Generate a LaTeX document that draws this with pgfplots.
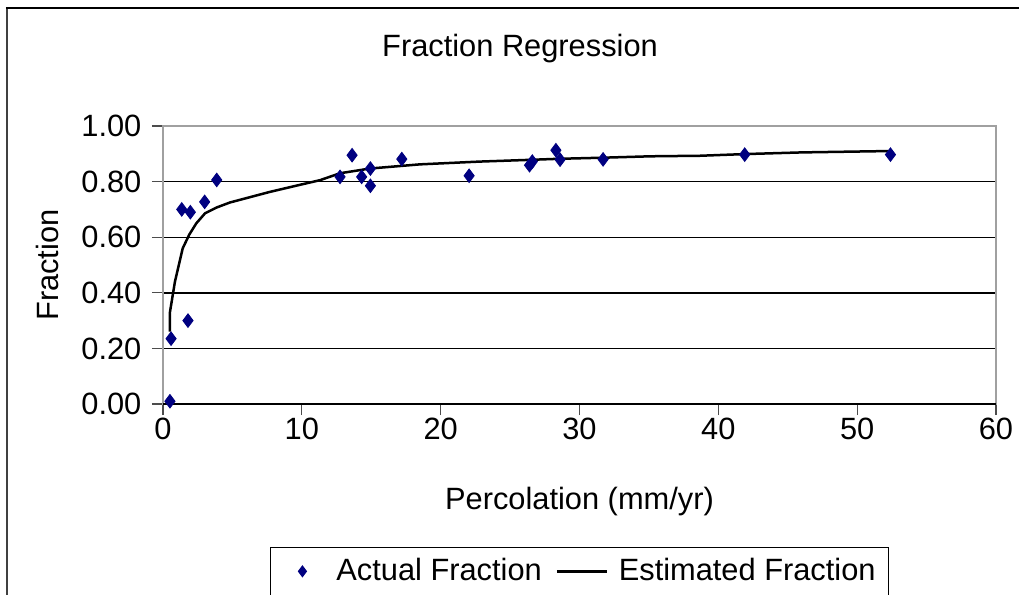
\documentclass[border=0pt]{standalone}
\usepackage{pgfplots}
\pgfplotsset{compat=1.18}
\usepackage{fontspec}
\setmainfont{Liberation Sans}

\definecolor{navymark}{RGB}{0,0,128}
\definecolor{framegray}{RGB}{160,160,160}

% legend images with the spacing of the reference
\pgfplotsset{
    markleg/.style={legend image code/.code={%
        \path[draw=none, fill=none] (0bp,0bp) -- (26.5bp,0bp);
        \path[##1, draw=none, mark size=2.6bp] plot coordinates {(11.5bp,0bp)};}},
    lineleg/.style={legend image code/.code={%
        \path[draw=none, fill=none] (-5.5bp,0bp) -- (29bp,0bp);
        \draw[black, line width=1.25bp, solid] (0bp,0bp) -- (25bp,0bp);}},
}

\pgfplotstableread{
x y
0.50 0.010
0.58 0.235
1.80 0.300
1.35 0.700
1.97 0.690
3.00 0.727
3.87 0.806
12.75 0.817
13.62 0.895
14.31 0.817
14.94 0.847
14.94 0.785
17.20 0.881
22.05 0.821
26.40 0.859
26.60 0.872
28.30 0.913
28.60 0.879
31.70 0.880
41.90 0.897
52.40 0.897
}\actual

\pgfplotstableread{
x y
0.50 0.260
0.50 0.330
0.86 0.440
1.42 0.560
1.90 0.610
2.40 0.650
3.03 0.686
3.87 0.707
4.83 0.725
7.70 0.763
10.00 0.790
11.30 0.805
12.75 0.830
14.90 0.847
18.50 0.862
22.80 0.872
25.70 0.877
28.50 0.882
31.70 0.886
35.10 0.891
38.70 0.893
41.90 0.899
46.00 0.905
52.40 0.910
}\estimated

\begin{document}
\fontsize{15.4bp}{18bp}\selectfont
\begin{tikzpicture}
% page frame (only left and top edges are visible in the reference)
\useasboundingbox (-81.5bp,-95.5bp) rectangle (428bp,202bp);
\draw[line width=1bp, black!75] (-78bp,198bp) -- (-78bp,-96bp);
\draw[line width=1bp, black] (-78.5bp,198bp) -- (429bp,198bp);
\begin{axis}[
    at={(0,0)}, anchor=south west,
    scale only axis,
    width=416.5bp, height=139bp,
    xmin=0, xmax=60, ymin=0, ymax=1,
    xtick={0,10,...,60},
    ytick={0,0.2,...,1.0},
    tick pos=left,
    tick align=outside,
    major tick length=5.5bp,
    tick style={black!70, line width=0.6bp},
    axis line style={framegray, line width=1bp},
    ymajorgrids,
    major grid style={black, line width=0.7bp},
    /pgf/number format/assume math mode=true,
    yticklabel style={/pgf/number format/.cd, fixed, fixed zerofill, precision=2},
    xticklabel style={yshift=4bp},
    title={Fraction Regression},
    title style={at={(axis description cs:0.4286,1.234)}, anchor=center},
    xlabel={Percolation (mm/yr)},
    xlabel style={at={(axis description cs:0.5,-0.35)}, anchor=center},
    ylabel={Fraction},
    ylabel style={at={(axis description cs:-0.139,0.5)}, anchor=center},
    clip=false,
    legend style={at={(axis description cs:0.5,-0.514)}, anchor=north,
        draw=black, line width=0.6bp, legend columns=2,
        inner xsep=4.5bp, inner ysep=3.2bp, column sep=0bp,
        cells={anchor=west, inner sep=0pt},
        /tikz/every odd column/.style={column sep=0bp},
        /tikz/every even column/.style={column sep=0bp}},
]
\draw[black, line width=0.7bp] (rel axis cs:0,0) -- (rel axis cs:1,0);
\addplot[only marks, mark=diamond*, mark size=3.4bp, navymark,
    mark options={fill=navymark, draw=navymark}, markleg]
    table[x=x, y=y] {\actual};
\addlegendentry{Actual Fraction}
\addplot[black, line width=1.25bp, no marks, forget plot]
    table[x=x, y=y] {\estimated};
\addlegendimage{only marks, black, lineleg}
\addlegendentry{Estimated Fraction}
\end{axis}
\end{tikzpicture}
\end{document}
